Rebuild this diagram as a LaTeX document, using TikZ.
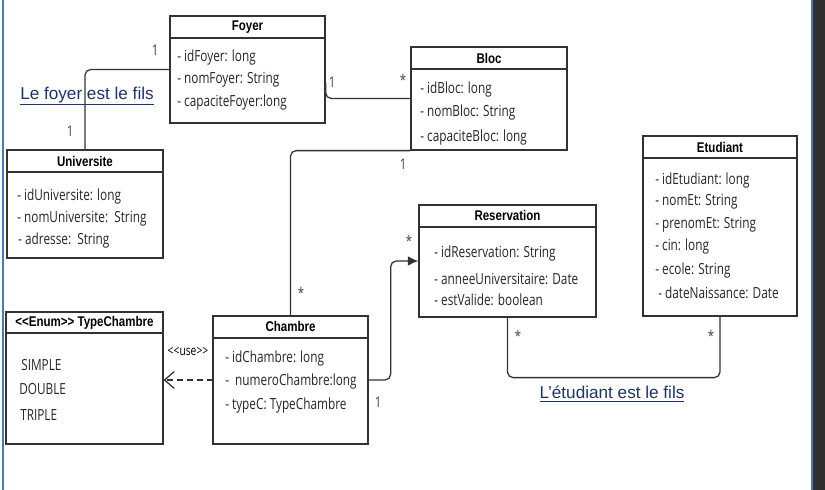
\documentclass[tikz,border=0pt]{standalone}
\usepackage{fontspec}
\setmainfont{Open Sans}[FakeStretch=0.77]
\newfontfamily\headfont{Liberation Sans}[FakeStretch=0.82]
\newfontfamily\notefont{Liberation Sans}
\usetikzlibrary{arrows.meta}

\definecolor{linegray}{HTML}{333333}
\definecolor{notenavy}{HTML}{1C3473}
\definecolor{stripgray}{HTML}{303030}
\definecolor{edgeblue}{HTML}{4A78B8}

\tikzset{
  classbox/.style 2 args={draw=linegray, line width=0.9pt, minimum width=#1cm, minimum height=#2cm, inner sep=0},
  classline/.style={draw=linegray, line width=0.9pt},
  classtitle/.style={inner sep=0, font=\headfont\bfseries\fontsize{10}{12}\selectfont},
  attr/.style={anchor=west, inner sep=0, text=black!85, font=\fontsize{10.9}{12}\selectfont},
  mult/.style={inner sep=0, text=black!75, font=\fontsize{10.5}{12}\selectfont},
  assoc/.style={draw=linegray, line width=0.9pt, rounded corners=4pt},
  fils/.style={inner sep=0, text=notenavy, font=\notefont\fontsize{12.2}{14}\selectfont},
}

\begin{document}
\begin{tikzpicture}
		\useasboundingbox (0, 0) rectangle (20.625, 12.25);
\fill[white] (0, 0) rectangle (20.625, 12.25);
\fill[stripgray] (20.325, 0) rectangle (20.625, 12.25); % screen edge
\draw[edgeblue, line width=0.8pt] (20.3, 0) -- (20.3, 12.25);
\draw[edgeblue, line width=0.8pt] (0.075, 0) -- (0.075, 12.25);
\node[classbox={3.875}{2.675}] (foyer) at (6.1875, 10.5125) {}; % Foyer
\draw[classline] (4.25, 11.3) -- (8.125, 11.3); % Foyer
\node[classtitle] (foyer-t) at (6.1875, 11.575) {Foyer}; % Foyer
\node[attr] (foyer-a1) at (4.425, 10.8) {- idFoyer: long}; % Foyer
\node[attr] (foyer-a2) at (4.425, 10.25) {- nomFoyer: String}; % Foyer
\node[attr] (foyer-a3) at (4.425, 9.675) {- capaciteFoyer:long}; % Foyer
\node[classbox={3.9}{2.575}] (bloc) at (12.225, 9.7875) {}; % Bloc
\draw[classline] (10.275, 10.525) -- (14.175, 10.525); % Bloc
\node[classtitle] (bloc-t) at (12.225, 10.8) {Bloc}; % Bloc
\node[attr] (bloc-a1) at (10.5, 10.0) {- idBloc: long}; % Bloc
\node[attr] (bloc-a2) at (10.5, 9.425) {- nomBloc: String}; % Bloc
\node[attr] (bloc-a3) at (10.5, 8.8) {- capaciteBloc: long}; % Bloc
\node[classbox={3.9}{2.7}] (univ) at (2.125, 7.15) {}; % Universite
\draw[classline] (0.175, 7.95) -- (4.075, 7.95); % Universite
\node[classtitle] (univ-t) at (2.125, 8.225) {Universite}; % Universite
\node[attr] (univ-a1) at (0.425, 7.325) {- idUniversite: long}; % Universite
\node[attr] (univ-a2) at (0.425, 6.775) {- nomUniversite:\ \ String}; % Universite
\node[attr] (univ-a3) at (0.45, 6.225) {- adresse:\ \ String}; % Universite
\node[classbox={3.85}{4.5}] (etud) at (18.0, 6.6) {}; % Etudiant
\draw[classline] (16.075, 8.3) -- (19.925, 8.3); % Etudiant
\node[classtitle] (etud-t) at (18.0, 8.575) {Etudiant}; % Etudiant
\node[attr] (etud-a1) at (16.375, 7.725) {- idEtudiant: long}; % Etudiant
\node[attr] (etud-a2) at (16.375, 7.2) {- nomEt: String}; % Etudiant
\node[attr] (etud-a3) at (16.375, 6.625) {- prenomEt: String}; % Etudiant
\node[attr] (etud-a4) at (16.375, 6.075) {- cin: long}; % Etudiant
\node[attr] (etud-a5) at (16.375, 5.475) {- ecole: String}; % Etudiant
\node[attr] (etud-a6) at (16.45, 4.925) {- dateNaissance: Date}; % Etudiant
\node[classbox={4.425}{2.8}] (resa) at (12.6875, 5.725) {}; % Reservation
\draw[classline] (10.475, 6.575) -- (14.9, 6.575); % Reservation
\node[classtitle] (resa-t) at (12.6875, 6.875) {Reservation}; % Reservation
\node[attr] (resa-a1) at (10.85, 5.9) {- idReservation: String}; % Reservation
\node[attr] (resa-a2) at (10.85, 5.275) {- anneeUniversitaire: Date}; % Reservation
\node[attr] (resa-a3) at (10.85, 4.75) {- estValide: boolean}; % Reservation
\node[classbox={3.925}{3.3}] (typech) at (2.1125, 2.8) {}; % TypeChambre
\draw[classline] (0.15, 3.925) -- (4.075, 3.925); % TypeChambre
\node[classtitle] (typech-t) at (2.1125, 4.175) {{<}{<}Enum{>}{>} TypeChambre}; % TypeChambre
\node[attr] (typech-v1) at (0.525, 3.125) {SIMPLE}; % TypeChambre
\node[attr] (typech-v2) at (0.475, 2.525) {DOUBLE}; % TypeChambre
\node[attr] (typech-v3) at (0.5, 1.875) {TRIPLE}; % TypeChambre
\node[classbox={3.875}{3.2}] (chambre) at (7.2625, 2.75) {}; % Chambre
\draw[classline] (5.325, 3.8) -- (9.2, 3.8); % Chambre
\node[classtitle] (chambre-t) at (7.2625, 4.1) {Chambre}; % Chambre
\node[attr] (chambre-a1) at (5.625, 3.275) {- idChambre: long}; % Chambre
\node[attr] (chambre-a2) at (5.625, 2.7) {-\ \ numeroChambre:long}; % Chambre
\node[attr] (chambre-a3) at (5.625, 2.1) {- typeC: TypeChambre}; % Chambre
\draw[assoc] (foyer.west) -| (univ.north); % foyer-univ
\node[mult] (m-fu1) at (3.875, 11.0) {1}; % foyer-univ
\node[mult] (m-fu2) at (1.75, 8.975) {1}; % foyer-univ
\node[fils] (note-foyer) at (2.175, 9.85) {\underline{Le foyer est le fils}}; % foyer-univ
\draw[assoc] ([yshift=-0.35cm]foyer.east) |- (bloc.west); % foyer-bloc
\node[mult] (m-fb1) at (8.3, 10.2) {1}; % foyer-bloc
\node[mult] (m-fb2) at (10.075, 10.25) {*}; % foyer-bloc
\draw[assoc] (bloc.south west) -| (chambre.north); % bloc-chambre
\node[mult] (m-bc1) at (10.075, 8.15) {1}; % bloc-chambre
\node[mult] (m-bc2) at (7.525, 4.925) {*}; % bloc-chambre
\draw[assoc, -{Latex[length=2.6mm, width=2.4mm]}] (chambre.east) -- ++(0.55, 0) |- (resa.west); % chambre-resa
\node[mult] (m-cr1) at (10.225, 6.225) {*}; % chambre-resa
\node[mult] (m-cr2) at (9.45, 2.2) {1}; % chambre-resa
\draw[classline, dashed, dash pattern=on 4pt off 3pt, -{Straight Barb[length=2.4mm, width=4.2mm]}] (chambre.west) -- (chambre.west -| typech.east); % use
\node[mult, text=black, font=\fontsize{9.5}{10}\selectfont] (m-use) at (4.7, 3.45) {{<}{<}use{>}{>}}; % use
\draw[assoc] (resa.south) -- ++(0, -1.5) -| (etud.south); % resa-etud
\node[mult] (m-re1) at (12.95, 3.85) {*}; % resa-etud
\node[mult] (m-re2) at (17.775, 3.85) {*}; % resa-etud
\node[fils] (note-etud) at (15.3, 2.4) {\underline{L’étudiant est le fils}}; % resa-etud
		\end{tikzpicture}
\end{document}
